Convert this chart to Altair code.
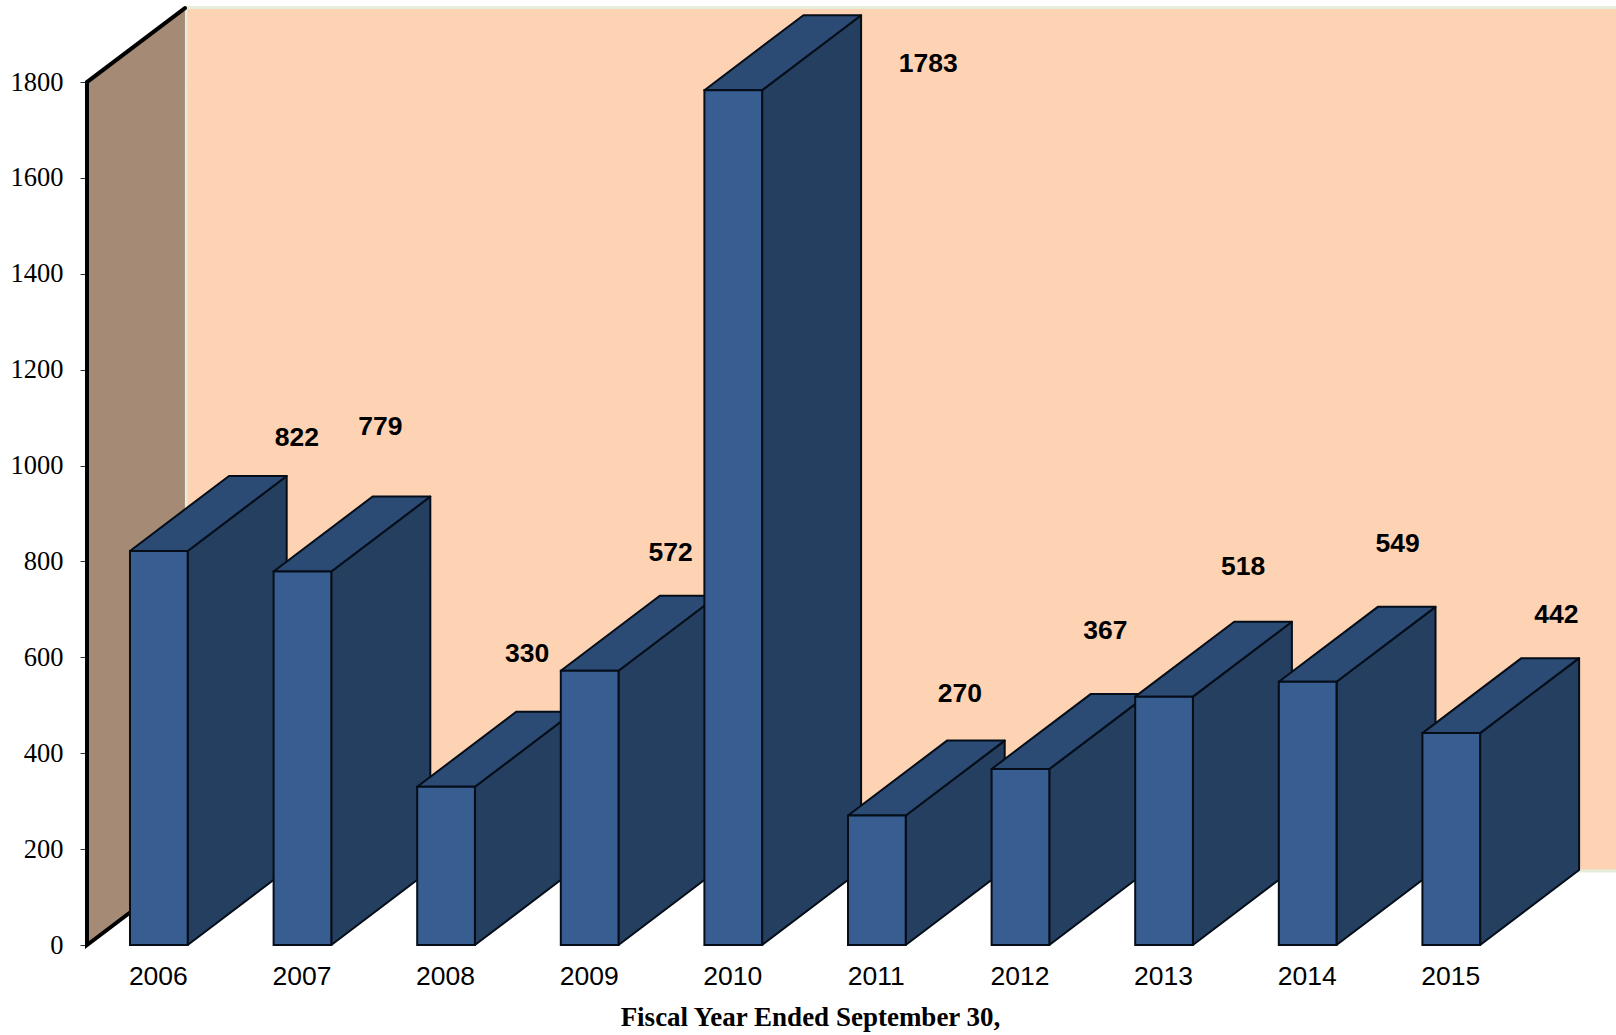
import altair as alt
import pandas as pd

# Fiscal years and the amount reported for each
years = [2006, 2007, 2008, 2009, 2010, 2011, 2012, 2013, 2014, 2015]
values = [822, 779, 330, 572, 1783, 270, 367, 518, 549, 442]
y_ticks = [0, 200, 400, 600, 800, 1000, 1200, 1400, 1600, 1800]

# Pixel nudges of each value label away from the top of its column
label_dx = [138, 78, 81, 81, 195, 83, 85, 79, 90, 105]
label_dy = [-113, -145, -133, -118, -26, -122, -138, -130, -138, -118]

# Extrusion geometry, in axis units
HALF_WIDTH = 0.2009
DEPTH_X = 0.6894
DEPTH_Y = 156.4
WALL_DEPTH_X = 0.682
WALL_DEPTH_Y = 154.4
X_MIN, X_MAX = 2005.4997, 2016.1472
Y_MAX = 1971.2
WALL_TOP = 1800

FRONT, SIDE, TOP = "#385e91", "#243f60", "#2b4a74"
EDGE = "#050d18"
BACK_FILL, WALL_FILL, PALE_EDGE = "#fdd3b4", "#a58b75", "#e6eedb"

x_scale = alt.Scale(domain=[X_MIN, X_MAX], nice=False, zero=False)
y_scale = alt.Scale(domain=[0, Y_MAX], nice=False, zero=False)


def xq(field="x", **kw):
    return alt.X(f"{field}:Q", scale=x_scale, axis=None, stack=None, **kw)


def yq(field="y", **kw):
    return alt.Y(f"{field}:Q", scale=y_scale, axis=None, stack=None, **kw)


x_axis = alt.Axis(
    values=years, format="d", title="Fiscal Year Ended September 30,",
    domain=False, ticks=False, grid=False, labelAngle=0,
    labelFont="Liberation Sans", labelFontSize=26.5, labelColor="#000",
    labelPadding=18, labelOverlap=False, labelFlush=False, labelOffset=-1,
    titleFont="Liberation Serif", titleFontSize=27, titleFontWeight="bold",
    titleColor="#000", titleX=723, titleY=72, titleAlign="center",
    titleBaseline="middle", titleAnchor="start",
)
y_axis = alt.Axis(
    values=y_ticks, format="d", title=None, domain=False, grid=False,
    tickSize=7, tickColor="#333", tickWidth=1, labelPadding=17,
    labelFont="Liberation Serif", labelFontSize=26.5, labelColor="#000",
    labelOverlap=False, labelFlush=False,
)

# Back wall, with the axes attached
back = alt.Chart(pd.DataFrame([{
    "x": X_MIN + WALL_DEPTH_X + 0.007, "x2": X_MAX + 0.1,
    "y": WALL_DEPTH_Y, "y2": 1955.6,
}])).mark_rect(fill=BACK_FILL, stroke=PALE_EDGE, strokeWidth=3).encode(
    x=alt.X("x:Q", scale=x_scale, axis=x_axis),
    x2="x2:Q",
    y=alt.Y("y:Q", scale=y_scale, axis=y_axis),
    y2="y2:Q",
)

# Slanted side wall next to the vertical axis
wall_fill = alt.Chart(pd.DataFrame([
    {"x": X_MIN, "y": 0, "y2": WALL_TOP},
    {"x": X_MIN + WALL_DEPTH_X, "y": WALL_DEPTH_Y, "y2": WALL_TOP + WALL_DEPTH_Y},
])).mark_area(fill=WALL_FILL, opacity=1).encode(x=xq(), y=yq(), y2="y2:Q")

wall_line = alt.Chart(pd.DataFrame([
    {"x": X_MIN + WALL_DEPTH_X, "y": WALL_DEPTH_Y, "o": 0},
    {"x": X_MIN, "y": 0, "o": 1},
    {"x": X_MIN, "y": WALL_TOP, "o": 2},
    {"x": X_MIN + WALL_DEPTH_X, "y": WALL_TOP + WALL_DEPTH_Y, "o": 3},
])).mark_line(color="#000", strokeWidth=4, strokeCap="round", strokeJoin="miter").encode(
    x=xq(), y=yq(), order="o:Q"
)

layers = [back, wall_fill, wall_line]

# Columns run left to right so each one hides the depth of the previous one
for year, value in zip(years, values):
    left, right = year - HALF_WIDTH, year + HALF_WIDTH
    side = alt.Chart(pd.DataFrame([
        {"x": right, "y": 0, "y2": value},
        {"x": right + DEPTH_X, "y": DEPTH_Y, "y2": value + DEPTH_Y},
    ])).mark_area(fill=SIDE, stroke=EDGE, strokeWidth=2, strokeJoin="round", opacity=1).encode(
        x=xq(), y=yq(), y2="y2:Q"
    )
    top = alt.Chart(pd.DataFrame([
        {"y": value, "x": left, "x2": right},
        {"y": value + DEPTH_Y, "x": left + DEPTH_X, "x2": right + DEPTH_X},
    ])).mark_area(orient="horizontal", fill=TOP, stroke=EDGE, strokeWidth=2, strokeJoin="round", opacity=1).encode(
        y=yq(), x=xq(), x2="x2:Q"
    )
    front = alt.Chart(pd.DataFrame([
        {"x": left, "x2": right, "y": 0, "y2": value},
    ])).mark_rect(fill=FRONT, stroke=EDGE, strokeWidth=2).encode(
        x=xq(), x2="x2:Q", y=yq(), y2="y2:Q"
    )
    layers += [side, top, front]

# Value labels float above and behind their columns
for year, value, dx, dy in zip(years, values, label_dx, label_dy):
    layers.append(
        alt.Chart(pd.DataFrame([{"x": year, "y": value, "t": str(value)}])).mark_text(
            font="Liberation Sans", fontSize=26.5, fontWeight="bold", color="#000",
            align="center", baseline="middle", dx=dx, dy=dy,
        ).encode(x=xq(), y=yq(), text="t:N")
    )

chart = alt.layer(*layers).resolve_axis(x="independent", y="independent").properties(
    width=1529,
    height=945,
    padding={"left": 87, "top": 0, "right": 0, "bottom": 90},
    autosize=alt.AutoSizeParams(type="none"),
    background="#ffffff",
).configure_view(stroke=None)

chart.save("out.html", embed_options={"renderer": "svg", "actions": False})
